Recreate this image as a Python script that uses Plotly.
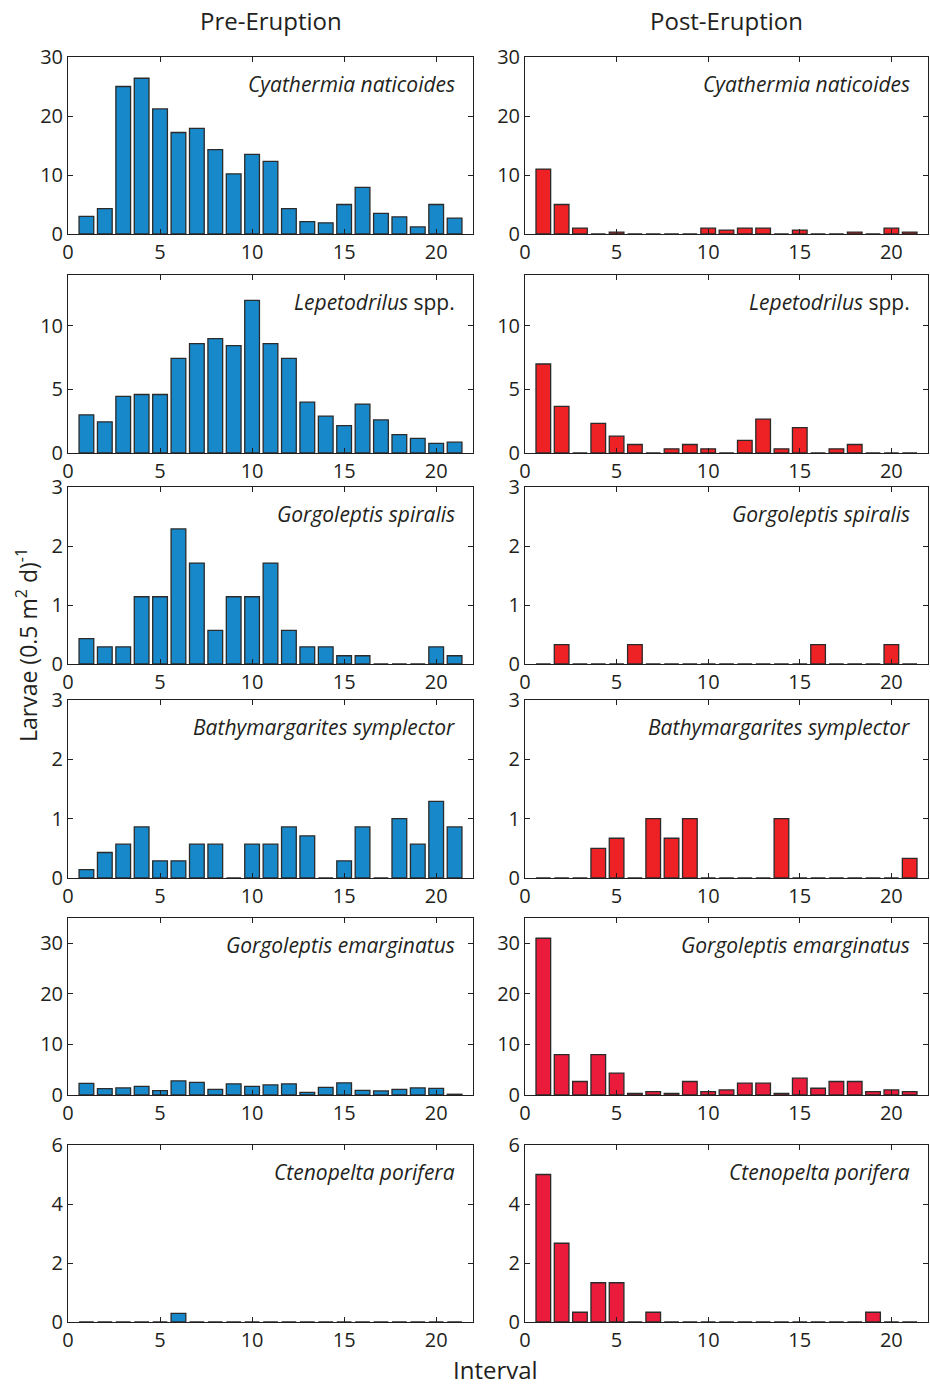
import plotly.graph_objects as go

# ---------------- data ----------------
intervals = list(range(1, 22))

species_names = [
    "<i>Cyathermia naticoides</i>",
    "<i>Lepetodrilus</i> spp.",
    "<i>Gorgoleptis spiralis</i>",
    "<i>Bathymargarites symplector</i>",
    "<i>Gorgoleptis emarginatus</i>",
    "<i>Ctenopelta porifera</i>",
]

pre_cyathermia = [3.0, 4.3, 25.0, 26.4, 21.2, 17.2, 17.9, 14.3, 10.2, 13.5, 12.3,
                  4.3, 2.1, 1.9, 5.0, 7.9, 3.5, 2.9, 1.2, 5.0, 2.7]
post_cyathermia = [11.0, 5.0, 1.0, 0, 0.33, 0, 0, 0, 0, 1.0, 0.67,
                   1.0, 1.0, 0, 0.67, 0, 0, 0.33, 0, 1.0, 0.33]

pre_lepetodrilus = [3.0, 2.45, 4.45, 4.6, 4.6, 7.45, 8.6, 9.0, 8.45, 12.0, 8.6,
                    7.45, 4.0, 2.9, 2.15, 3.85, 2.6, 1.45, 1.15, 0.75, 0.85]
post_lepetodrilus = [7.0, 3.67, 0, 2.33, 1.33, 0.67, 0, 0.33, 0.67, 0.33, 0,
                     1.0, 2.67, 0.33, 2.0, 0, 0.33, 0.67, 0, 0, 0]

pre_spiralis = [0.43, 0.29, 0.29, 1.14, 1.14, 2.29, 1.71, 0.57, 1.14, 1.14, 1.71,
                0.57, 0.29, 0.29, 0.14, 0.14, 0, 0, 0, 0.29, 0.14]
post_spiralis = [0, 0.33, 0, 0, 0, 0.33, 0, 0, 0, 0, 0,
                 0, 0, 0, 0, 0.33, 0, 0, 0, 0.33, 0]

pre_bathymargarites = [0.14, 0.43, 0.57, 0.86, 0.29, 0.29, 0.57, 0.57, 0, 0.57, 0.57,
                       0.86, 0.71, 0, 0.29, 0.86, 0, 1.0, 0.57, 1.29, 0.86]
post_bathymargarites = [0, 0, 0, 0.5, 0.67, 0, 1.0, 0.67, 1.0, 0, 0,
                        0, 0, 1.0, 0, 0, 0, 0, 0, 0, 0.33]

pre_emarginatus = [2.3, 1.25, 1.4, 1.7, 0.85, 2.8, 2.5, 1.1, 2.2, 1.7, 2.0,
                   2.2, 0.5, 1.5, 2.4, 0.9, 0.8, 1.1, 1.4, 1.3, 0.15]
post_emarginatus = [31.0, 8.0, 2.67, 8.0, 4.33, 0.33, 0.67, 0.33, 2.67, 0.67, 1.0,
                    2.33, 2.33, 0.33, 3.33, 1.33, 2.67, 2.67, 0.67, 1.0, 0.67]

pre_ctenopelta = [0, 0, 0, 0, 0, 0.29, 0, 0, 0, 0, 0,
                  0, 0, 0, 0, 0, 0, 0, 0, 0, 0]
post_ctenopelta = [5.0, 2.67, 0.33, 1.33, 1.33, 0, 0.33, 0, 0, 0, 0,
                   0, 0, 0, 0, 0, 0, 0, 0.33, 0, 0]

pre_series = [pre_cyathermia, pre_lepetodrilus, pre_spiralis,
              pre_bathymargarites, pre_emarginatus, pre_ctenopelta]
post_series = [post_cyathermia, post_lepetodrilus, post_spiralis,
               post_bathymargarites, post_emarginatus, post_ctenopelta]

y_ranges = [[0, 30], [0, 14], [0, 3], [0, 3], [0, 35], [0, 6]]
y_ticks = [[0, 10, 20, 30], [0, 5, 10], [0, 1, 2, 3], [0, 1, 2, 3],
           [0, 10, 20, 30], [0, 2, 4, 6]]
x_ticks = [0, 5, 10, 15, 20]

column_titles = ["Pre-Eruption", "Post-Eruption"]
x_title = "Interval"
y_title = "Larvae (0.5 m<sup>2</sup> d)<sup>-1</sup>"

# ---------------- style / layout ----------------
W, H = 930, 1387
FONT = "Open Sans"
INK = "#231F20"
BLUE = "#1789CA"
REDS = ["#EE2125", "#EE2125", "#EE2125", "#EE2125", "#EB1B3B", "#EB1B3B"]

rows_px = [(57, 234), (275, 453), (487, 664), (700, 878), (918, 1095), (1145, 1322)]
cols_px = [(68, 473), (525, 928)]

fig = go.Figure()
annotations = []
layout_axes = {}

for r in range(6):
    for c in range(2):
        n = r * 2 + c + 1
        suffix = "" if n == 1 else str(n)
        vals = pre_series[r] if c == 0 else post_series[r]
        color = BLUE if c == 0 else REDS[r]
        fig.add_trace(go.Bar(
            x=intervals, y=vals, width=0.8,
            marker=dict(color=color, line=dict(color="#2b2b2b", width=1.3)),
            xaxis="x" + suffix, yaxis="y" + suffix, showlegend=False,
        ))
        x0, x1 = cols_px[c]
        t, b = rows_px[r]
        axis_common = dict(
            showline=True, linecolor=INK, linewidth=1, mirror="ticks",
            ticks="inside", ticklen=5, tickwidth=1, tickcolor=INK,
            showgrid=False, zeroline=False, automargin=False,
            tickfont=dict(family=FONT, size=20, color=INK),
        )
        layout_axes["xaxis" + suffix] = dict(
            axis_common, domain=[x0 / W, x1 / W], range=[0, 22],
            tickvals=x_ticks, anchor="y" + suffix,
        )
        layout_axes["yaxis" + suffix] = dict(
            axis_common, domain=[1 - b / H, 1 - t / H], range=y_ranges[r],
            tickvals=y_ticks[r], anchor="x" + suffix,
        )
        annotations.append(dict(
            text=species_names[r], xref="x" + suffix + " domain",
            yref="y" + suffix + " domain", x=1, y=1, xanchor="right",
            yanchor="top", xshift=-16, yshift=-11, showarrow=False,
            font=dict(family=FONT, size=21, color=INK),
        ))

for c, title in enumerate(column_titles):
    x0, x1 = cols_px[c]
    annotations.append(dict(
        text=title, xref="paper", yref="paper", x=(x0 + x1) / 2 / W,
        y=1 - 20 / H, xanchor="center", yanchor="middle", showarrow=False,
        font=dict(family=FONT, size=24, color=INK),
    ))

annotations.append(dict(
    text=x_title, xref="paper", yref="paper", x=495 / W, y=1 - 1369 / H,
    xanchor="center", yanchor="middle", showarrow=False,
    font=dict(family=FONT, size=24, color=INK),
))
annotations.append(dict(
    text=y_title, xref="paper", yref="paper", x=27 / W, y=1 - 645 / H,
    xanchor="center", yanchor="middle", textangle=-90, showarrow=False,
    font=dict(family=FONT, size=23, color=INK),
))

fig.update_layout(
    width=W, height=H, margin=dict(l=0, r=0, t=0, b=0, pad=0, autoexpand=False),
    paper_bgcolor="white", plot_bgcolor="white",
    bargap=0.2, annotations=annotations, **layout_axes,
)

fig.write_html("out.html",
               config={"displayModeBar": False},
               post_script="document.body.style.margin='0';document.body.style.padding='0';")
